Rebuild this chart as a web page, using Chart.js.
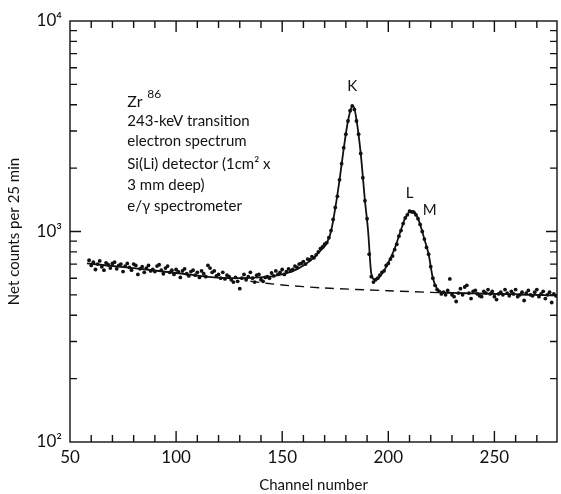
<!DOCTYPE html>
<html>
<head>
<meta charset="utf-8">
<script src="https://cdn.jsdelivr.net/npm/chart.js@4.4.1/dist/chart.umd.min.js"></script>
<style>
	html, body { margin: 0; padding: 0; background: #fff; }
	#wrap { width: 561px; height: 494px; }
</style>
</head>
<body>
<div id="wrap"><canvas id="chart-spectrum"></canvas></div>
<script>
// Data
const CHANNEL_START = 59;
const COUNTS = [
	730, 690, 715, 660, 700, 725, 680, 655, 710, 695,
	670, 705, 715, 665, 690, 700, 645, 685, 705, 675,
	655, 700, 690, 625, 665, 680, 640, 670, 690, 650,
	660, 645, 685, 695, 655, 630, 670, 685, 640, 655,
	625, 660, 645, 605, 650, 665, 630, 615, 645, 655,
	620, 640, 605, 650, 630, 610, 690, 670, 640, 650,
	615, 625, 600, 640, 595, 620, 610, 590, 575, 605,
	580, 535, 600, 625, 590, 610, 640, 600, 575, 620,
	625, 590, 580, 605, 610, 600, 635, 615, 650, 625,
	640, 660, 625, 645, 665, 650, 660, 685, 675, 700,
	705, 720, 700, 740, 735, 760, 750, 775, 800, 830,
	845, 870, 885, 935, 1010, 1140, 1300, 1470, 1760, 2100,
	2500, 2900, 3350, 3750, 3950, 3800, 3350, 2900, 2350, 1800,
	1400, 1150, 780, 610, 575, 590, 600, 620, 640, 650,
	690, 705, 740, 765, 820, 870, 950, 1010, 1090, 1160,
	1200, 1250, 1240, 1235, 1200, 1150, 1080, 1000, 920, 840,
	780, 680, 600, 555, 530, 520, 505, 515, 500, 525,
	595, 500, 490, 465, 510, 535, 500, 545, 555, 510,
	480, 520, 525, 505, 495, 490, 520, 510, 530, 505,
	520, 490, 475, 505, 515, 500, 530, 510, 495, 520,
	505, 530, 490, 500, 515, 470, 510, 525, 500, 495,
	515, 530, 490, 505, 520, 480, 500, 515, 460, 505,
	495,
];

// Fitted curve (solid)
const FIT_X = [58, 80, 100, 125, 145, 155, 160, 165, 168, 171, 173, 175, 177, 179, 181, 182.5, 183.5, 185, 187, 189, 190.5, 192, 194, 197, 200, 203, 206, 208, 210, 211.5, 213, 215, 217, 219, 221, 223, 225, 240, 279];
const FIT_Y = [705, 670, 635, 600, 612, 648, 690, 752, 810, 880, 1000, 1290, 1750, 2480, 3350, 3850, 3950, 3400, 2350, 1400, 1000, 630, 588, 630, 710, 830, 1020, 1160, 1240, 1250, 1210, 1080, 920, 780, 600, 535, 515, 508, 497];

// Background (dashed)
const BASE_X = [135, 150, 170, 200, 225, 250, 279];
const BASE_Y = [580, 557, 539, 523, 512, 505, 497];

const X_TICKS = [50, 100, 150, 200, 250];
const Y_TICKS = [100, 1000, 10000];
const Y_TICK_LABELS = ["10²", "10³", "10⁴"];

const NOTE_LINES = ["243-keV transition", "electron spectrum", "Si(Li) detector (1cm² x", "3 mm deep)", "e/γ spectrometer"];
const PEAK_LABELS = [
	{ text: "K", x: 183, y: 4900 },
	{ text: "L", x: 210, y: 1520 },
	{ text: "M", x: 219.5, y: 1260 },
];

const FONT = "Lato, 'DejaVu Sans', sans-serif";
const INK = "#111";

//---------------------------------------------------------
// Frame, inward ticks and notes
//---------------------------------------------------------
const framePlugin = {
	id: "frame",
	afterDraw(chart) {
		const { ctx, chartArea: a, scales } = chart;
		const xs = scales.x;
		const ys = scales.y;
		ctx.save();
		ctx.strokeStyle = INK;
		ctx.lineWidth = 1.4;
		ctx.strokeRect(a.left, a.top, a.right - a.left, a.bottom - a.top);

		// x ticks, bottom and top
		for (let v = 60; v <= 270; v += 10) {
			const px = xs.getPixelForValue(v);
			const len = v % 50 === 0 ? 11 : 7;
			ctx.beginPath();
			ctx.moveTo(px, a.bottom);
			ctx.lineTo(px, a.bottom - len);
			ctx.moveTo(px, a.top);
			ctx.lineTo(px, a.top + len);
			ctx.stroke();
		}
		// y ticks, left and right
		for (let d = 100; d < 10000; d *= 10) {
			for (let m = 1; m <= 9; m++) {
				const v = d * m;
				if (v === 100) continue;
				const py = ys.getPixelForValue(v);
				const len = m === 1 ? 11 : 7;
				ctx.beginPath();
				ctx.moveTo(a.left, py);
				ctx.lineTo(a.left + len, py);
				ctx.moveTo(a.right, py);
				ctx.lineTo(a.right - len, py);
				ctx.stroke();
			}
		}

		// notes
		ctx.fillStyle = INK;
		ctx.textBaseline = "alphabetic";
		ctx.textAlign = "left";
		const nx = xs.getPixelForValue(77);
		ctx.font = "16px " + FONT;
		ctx.fillText("Zr", nx, 107);
		ctx.font = "12px " + FONT;
		ctx.fillText("86", nx + 20, 98);
		ctx.font = "15px " + FONT;
		const rows = [126, 146, 169, 190, 211];
		NOTE_LINES.forEach((t, i) => ctx.fillText(t, nx, rows[i]));

		ctx.font = "15px " + FONT;
		ctx.textAlign = "center";
		ctx.textBaseline = "middle";
		PEAK_LABELS.forEach((p) => {
			ctx.fillText(p.text, xs.getPixelForValue(p.x), ys.getPixelForValue(p.y));
		});
		ctx.restore();
	},
};

const CHART_DATA = {
	datasets: [
		{
			label: "Counts",
			type: "scatter",
			data: COUNTS.map((v, i) => ({ x: CHANNEL_START + i, y: v })),
			pointRadius: 1.9,
			pointBackgroundColor: INK,
			pointBorderWidth: 0,
			order: 1,
		},
		{
			label: "Fit",
			type: "line",
			data: FIT_X.map((x, i) => ({ x, y: FIT_Y[i] })),
			borderColor: INK,
			borderWidth: 1.8,
			pointRadius: 0,
			cubicInterpolationMode: "monotone",
			fill: false,
			order: 2,
		},
		{
			label: "Background",
			type: "line",
			data: BASE_X.map((x, i) => ({ x, y: BASE_Y[i] })),
			borderColor: INK,
			borderWidth: 1.4,
			borderDash: [9, 6],
			pointRadius: 0,
			tension: 0.3,
			fill: false,
			order: 3,
		},
	],
};

const CHART_CONFIG = {
	type: "scatter",
	data: CHART_DATA,
	options: {
		animation: false,
		responsive: true,
		maintainAspectRatio: false,
		layout: {
			padding: { top: 21, right: 1, left: 0, bottom: 0 },
		},
		scales: {
			x: {
				type: "linear",
				min: 50,
				max: 279.5,
				border: { display: false },
				grid: { display: false, drawTicks: false },
				afterBuildTicks: (scale) => {
					scale.ticks = X_TICKS.map((v) => ({ value: v }));
				},
				afterFit: (scale) => {
					scale.height = 52;
				},
				ticks: {
					color: INK,
					padding: 5,
					maxRotation: 0,
					font: { family: FONT, size: 17 },
					callback: (v) => String(v),
				},
				title: {
					display: true,
					text: "Channel number",
					color: INK,
					padding: { top: 6, bottom: 0 },
					font: { family: FONT, size: 15 },
				},
			},
			y: {
				type: "logarithmic",
				min: 100,
				max: 10000,
				border: { display: false },
				grid: { display: false, drawTicks: false },
				afterBuildTicks: (scale) => {
					scale.ticks = Y_TICKS.map((v) => ({ value: v }));
				},
				afterFit: (scale) => {
					scale.width = 70;
				},
				ticks: {
					color: INK,
					padding: 8,
					font: { family: FONT, size: 17 },
					callback: (v) => Y_TICK_LABELS[Y_TICKS.indexOf(v)],
				},
				title: {
					display: true,
					text: "Net counts per 25 min",
					color: INK,
					padding: { top: 5, bottom: 0 },
					font: { family: FONT, size: 15 },
				},
			},
		},
		plugins: {
			legend: { display: false },
			tooltip: { enabled: false },
		},
	},
	plugins: [framePlugin],
};

new Chart(document.getElementById("chart-spectrum"), CHART_CONFIG);
</script>
</body>
</html>
